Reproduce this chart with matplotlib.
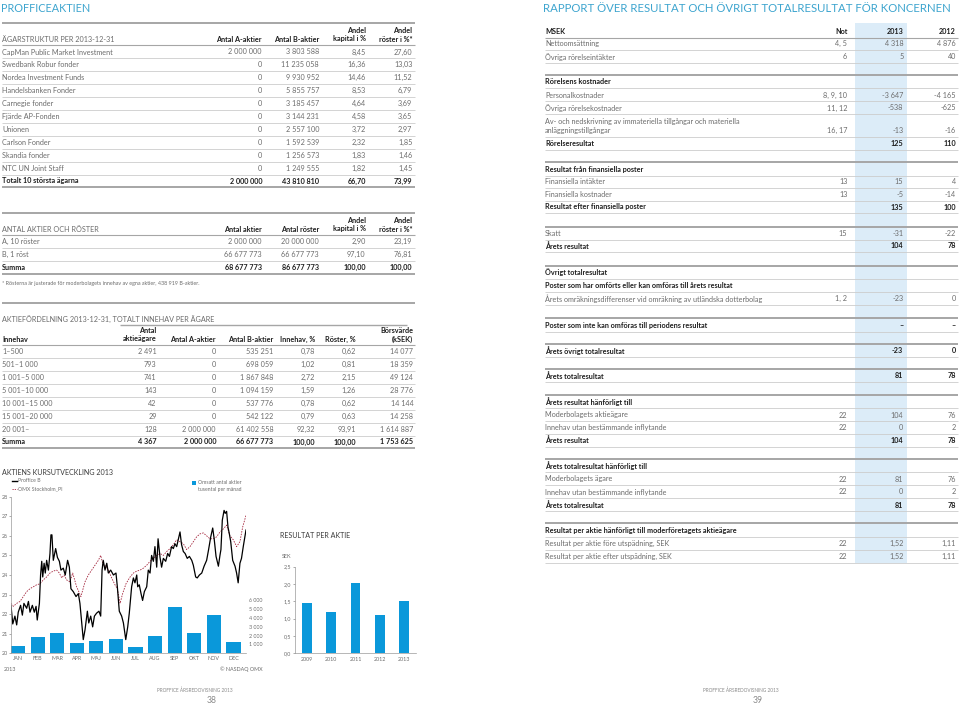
import matplotlib
matplotlib.use("Agg")
import matplotlib.pyplot as plt
from matplotlib.patches import Rectangle

plt.rcParams['font.family'] = ['Lato', 'DejaVu Sans']

# ---------------- data ----------------
owner_names = ["CapMan Public Market Investment", "Swedbank Robur fonder", "Nordea Investment Funds",
               "Handelsbanken Fonder", "Carnegie fonder", "Fjärde AP-Fonden", "Unionen",
               "Carlson Fonder", "Skandia fonder", "NTC UN Joint Staff"]
owner_a = [2000000, 0, 0, 0, 0, 0, 0, 0, 0, 0]
owner_b = [3803588, 11235058, 9930952, 5855757, 3185457, 3144231, 2557100, 1592539, 1256573, 1249555]
owner_cap = [8.45, 16.36, 14.46, 8.53, 4.64, 4.58, 3.72, 2.32, 1.83, 1.82]
owner_vote = [27.60, 13.03, 11.52, 6.79, 3.69, 3.65, 2.97, 1.85, 1.46, 1.45]
owner_total = [2000000, 43810810, 66.70, 73.99]

share_class = ["A, 10 röster", "B, 1 röst"]
share_count = [2000000, 66677773]
share_votes = [20000000, 66677773]
share_cap = [2.90, 97.10]
share_vote_pct = [23.19, 76.81]
share_sum = [68677773, 86677773, 100.00, 100.00]

dist_range = ["1–500", "501–1 000", "1 001–5 000", "5 001–10 000", "10 001–15 000",
              "15 001–20 000", "20 001–"]
dist_holders = [2491, 793, 741, 143, 42, 29, 128]
dist_a = [0, 0, 0, 0, 0, 0, 2000000]
dist_b = [535251, 698059, 1867848, 1094159, 537776, 542122, 61402558]
dist_hold_pct = [0.78, 1.02, 2.72, 1.59, 0.78, 0.79, 92.32]
dist_vote_pct = [0.62, 0.81, 2.15, 1.26, 0.62, 0.63, 93.91]
dist_value = [14077, 18359, 49124, 28776, 14144, 14258, 1614887]
dist_sum = [4367, 2000000, 66677773, 100.00, 100.00, 1753625]

months = ["JAN", "FEB", "MAR", "APR", "MAJ", "JUN", "JUL", "AUG", "SEP", "OKT", "NOV", "DEC"]
volume = [820, 1800, 2300, 1200, 1350, 1570, 670, 1950, 5250, 2280, 4270, 1270]  # tusental
proffice_x = [0.00, 0.09, 0.20, 0.29, 0.37, 0.49, 0.58, 0.66, 0.80, 0.89, 0.97, 1.09, 1.19, 1.28,
              1.34, 1.45, 1.51, 1.57, 1.62, 1.69, 1.75, 1.82, 1.91, 1.99, 2.04, 2.09, 2.16, 2.21,
              2.28, 2.37, 2.47, 2.55, 2.67, 2.77, 2.89, 2.98, 3.06, 3.18, 3.32, 3.44, 3.52, 3.61,
              3.69, 3.78, 3.90, 3.97, 4.07, 4.17, 4.26, 4.37, 4.49, 4.58, 4.65, 4.71, 4.80, 4.89,
              4.97, 5.09, 5.23, 5.36, 5.43, 5.53, 5.65, 5.74, 5.86, 5.96, 6.04, 6.16, 6.25, 6.33,
              6.42, 6.47, 6.55, 6.64, 6.72, 6.81, 6.93, 7.01, 7.10, 7.18, 7.27, 7.35, 7.44, 7.51,
              7.61, 7.69, 7.78, 7.90, 8.00, 8.09, 8.20, 8.29, 8.37, 8.46, 8.54, 8.63, 8.71, 8.80,
              8.89, 9.00, 9.11, 9.23, 9.31, 9.43, 9.51, 9.62, 9.74, 9.86, 9.99, 10.09, 10.20,
              10.30, 10.38, 10.47, 10.59, 10.67, 10.72, 10.79, 10.88, 10.94, 11.01, 11.08, 11.15,
              11.22, 11.32, 11.44, 11.52, 11.60, 11.69, 11.77, 11.86, 11.95, 12.00]
proffice_y = [22.44, 21.50, 21.90, 21.45, 22.10, 22.45, 21.95, 22.55, 22.30, 22.65, 22.10, 22.45,
              22.10, 22.40, 21.70, 22.55, 24.00, 24.70, 23.90, 24.60, 24.10, 24.75, 24.25, 25.10,
              26.05, 26.05, 24.75, 25.00, 25.35, 24.90, 24.70, 24.25, 24.35, 24.00, 24.75, 24.40,
              23.30, 23.15, 22.90, 23.05, 22.55, 21.55, 20.70, 21.20, 22.15, 21.55, 21.90, 21.35,
              21.90, 22.05, 22.15, 21.90, 24.25, 24.75, 24.25, 24.60, 24.10, 24.25, 24.00, 24.10,
              23.40, 22.15, 21.90, 21.55, 20.70, 21.35, 22.05, 23.40, 23.85, 23.60, 24.00, 23.40,
              23.50, 23.05, 22.70, 23.15, 23.40, 24.25, 24.10, 25.00, 24.70, 25.45, 24.40, 25.85,
              24.90, 24.40, 24.85, 24.70, 25.10, 24.95, 25.45, 25.35, 25.60, 25.45, 25.80, 26.20,
              25.55, 25.20, 25.10, 24.85, 24.95, 24.75, 24.50, 23.90, 23.85, 24.00, 24.10, 24.45,
              24.75, 25.30, 25.95, 26.40, 25.80, 24.95, 24.45, 25.00, 25.30, 26.80, 27.30, 27.15,
              27.25, 26.45, 26.10, 25.70, 24.75, 24.45, 24.10, 23.60, 24.60, 24.85, 25.45, 26.00,
              26.30]
omx_x = [0.00, 0.12, 0.29, 0.46, 0.63, 0.80, 0.97, 1.14, 1.31, 1.48, 1.65, 1.82, 1.99, 2.16, 2.33,
         2.47, 2.59, 2.71, 2.84, 3.01, 3.15, 3.35, 3.57, 3.78, 3.95, 4.12, 4.29, 4.46, 4.58, 4.71,
         4.85, 4.97, 5.14, 5.31, 5.43, 5.57, 5.70, 5.87, 6.08, 6.25, 6.42, 6.59, 6.76, 6.93, 7.10,
         7.27, 7.44, 7.61, 7.78, 7.95, 8.12, 8.29, 8.46, 8.63, 8.80, 8.97, 9.14, 9.31, 9.48, 9.65,
         9.82, 9.99, 10.16, 10.33, 10.50, 10.67, 10.84, 11.01, 11.18, 11.35, 11.52, 11.69, 11.83,
         12.00]
omx_y = [22.55, 22.40, 22.55, 22.65, 22.90, 23.15, 23.30, 23.40, 23.50, 23.55, 23.75, 23.90, 24.10,
         24.20, 24.25, 24.10, 23.85, 24.00, 23.75, 23.65, 24.10, 23.40, 22.90, 23.65, 24.00, 24.25,
         24.50, 24.75, 25.00, 24.50, 24.45, 24.25, 23.85, 23.50, 23.30, 22.55, 23.05, 23.55, 23.90,
         24.10, 24.20, 24.25, 24.35, 24.50, 24.70, 24.85, 25.00, 25.10, 25.00, 25.20, 25.35, 25.55,
         25.80, 25.70, 25.60, 25.30, 25.45, 25.70, 25.95, 26.10, 26.15, 26.00, 25.85, 25.85, 25.95,
         26.20, 26.35, 26.55, 26.00, 25.80, 25.45, 25.70, 26.45, 27.05]
vol_ticks = [1000, 2000, 3000, 4000, 5000, 6000]
price_ticks = [20, 21, 22, 23, 24, 25, 26, 27, 28]

eps_years = ["2009", "2010", "2011", "2012", "2013"]
eps_values = [1.45, 1.19, 2.02, 1.11, 1.52]
eps_ticks = [0.0, 0.5, 1.0, 1.5, 2.0, 2.5]

res_labels = ["Nettoomsättning", "Övriga rörelseintäkter", "Rörelsens kostnader", "Personalkostnader",
              "Övriga rörelsekostnader",
              "Av- och nedskrivning av immateriella tillgångar och materiella\nanläggningstillgångar",
              "Rörelseresultat", "Resultat från finansiella poster", "Finansiella intäkter",
              "Finansiella kostnader", "Resultat efter finansiella poster", "Skatt", "Årets resultat",
              "Övrigt totalresultat", "Poster som har omförts eller kan omföras till årets resultat",
              "Årets omräkningsdifferenser vid omräkning av utländska dotterbolag",
              "Poster som inte kan omföras till periodens resultat", "Årets övrigt totalresultat",
              "Årets totalresultat", "Årets resultat hänförligt till", "Moderbolagets aktieägare",
              "Innehav utan bestämmande inflytande", "Årets resultat",
              "Årets totalresultat hänförligt till", "Moderbolagets ägare",
              "Innehav utan bestämmande inflytande", "Årets totalresultat",
              "Resultat per aktie hänförligt till moderföretagets aktieägare",
              "Resultat per aktie före utspädning, SEK", "Resultat per aktie efter utspädning, SEK"]
res_note = ["4, 5", "6", "", "8, 9, 10", "11, 12", "16, 17", "", "", "13", "13", "", "15", "", "", "",
            "1, 2", "", "", "", "", "22", "22", "", "", "22", "22", "", "", "22", "22"]
res_2013 = ["4 318", "5", "", "-3 647", "-538", "-13", "125", "", "15", "-5", "135", "-31", "104", "",
            "", "-23", "–", "-23", "81", "", "104", "0", "104", "", "81", "0", "81", "", "1,52", "1,52"]
res_2012 = ["4 876", "40", "", "-4 165", "-625", "-16", "110", "", "4", "-14", "100", "-22", "78", "",
            "", "0", "–", "0", "78", "", "76", "2", "78", "", "76", "2", "78", "", "1,11", "1,11"]
res_bold = [0, 0, 1, 0, 0, 0, 1, 1, 0, 0, 1, 0, 1, 1, 1, 0, 1, 1, 1, 1, 0, 0, 1, 1, 0, 0, 1, 1, 0, 0]

# ---------------- layout ----------------
res_y = [43.3, 56.7, 82, 95, 108, 121.7, 144, 169.3, 182, 194.7, 207, 233.3, 246, 272.3, 285.7,
         298.7, 325.3, 350.7, 376, 402, 415, 427.7, 440.3, 466, 479, 492, 505, 530.3, 543.7, 556.7]
res_sections = [75, 162.3, 226.7, 265.7, 318.3, 344.3, 369, 395, 459.3, 523.3]

GREY = "#6c6c6c"
DARK = "#1e1e1e"
RULE = "#a6a6a6"
THIN = "#cccccc"
TEAL = "#3ea5cf"
BLUE = "#0a98da"
FS = 5.2


def num(v):
    return f"{v:,}".replace(",", " ")


def pct(v):
    return f"{v:.2f}".replace(".", ",")


fig = plt.figure(figsize=(9.6, 7.06), dpi=100)
page = fig.add_axes((0, 0, 1, 1))
page.set_xlim(0, 960)
page.set_ylim(706, 0)
page.axis("off")


def txt(x, y, s, ha="left", bold=False, size=FS, color=None, **kw):
    page.text(x, y, s, ha=ha, va="center", fontsize=size,
              fontweight="bold" if bold else "normal",
              color=color or (DARK if bold else GREY), **kw)


def head(x, y, s, ha="right"):
    for k, line in enumerate(reversed(s.split("\n"))):
        txt(x, y - 8.8 * k, line, ha=ha, bold=True)


def hline(y, x0, x1, lw=0.6, color=THIN):
    page.plot([x0, x1], [y, y], color=color, lw=lw, solid_capstyle="butt")


L0, L1 = 2, 415
P = 12.9

# --- Ägarstruktur ---
txt(1, 8, "PROFFICEAKTIEN", size=7.8, color=TEAL)
c1 = [262, 319, 365.7, 412.3]
hline(23.3, L0, L1, 1.4, RULE)
txt(2, 39, "ÄGARSTRUKTUR PER 2013-12-31")
for x, h in zip(c1, ["Antal A-aktier", "Antal B-aktier", "Andel\nkapital i %", "Andel\nröster i %*"]):
    head(x, 39, h)
hline(45.3, L0, L1, 0.8, RULE)
for i, name in enumerate(owner_names):
    y = 52 + i * P
    txt(2, y, name)
    vals = [num(owner_a[i]), num(owner_b[i]), pct(owner_cap[i]), pct(owner_vote[i])]
    for x, v in zip(c1, vals):
        txt(x, y, v, ha="right")
    hline(y + 6.45, L0, L1)
y = 52 + len(owner_names) * P
txt(2, y, "Totalt 10 största ägarna", bold=True)
for x, v in zip(c1, [num(owner_total[0]), num(owner_total[1]), pct(owner_total[2]), pct(owner_total[3])]):
    txt(x, y, v, ha="right", bold=True)
hline(y + 6.4, L0, L1, 1.4, RULE)

# --- Antal aktier och röster ---
hline(212.7, L0, L1, 1.4, RULE)
txt(2, 229, "ANTAL AKTIER OCH RÖSTER")
for x, h in zip(c1, ["Antal aktier", "Antal röster", "Andel\nkapital i %", "Andel\nröster i %*"]):
    head(x, 229, h)
hline(235.3, L0, L1, 0.8, RULE)
for i, name in enumerate(share_class):
    y = 241.7 + i * P
    txt(2, y, name)
    vals = [num(share_count[i]), num(share_votes[i]), pct(share_cap[i]), pct(share_vote_pct[i])]
    for x, v in zip(c1, vals):
        txt(x, y, v, ha="right")
    hline(y + 6.45, L0, L1)
y = 241.7 + len(share_class) * P
txt(2, y, "Summa", bold=True)
for x, v in zip(c1, [num(share_sum[0]), num(share_sum[1]), pct(share_sum[2]), pct(share_sum[3])]):
    txt(x, y, v, ha="right", bold=True)
hline(y + 6.0, L0, L1, 1.4, RULE)
txt(2, 284, "* Rösterna är justerade för moderbolagets innehav av egna aktier, 438 919 B-aktier.", size=3.9)

# --- Aktiefördelning ---
hline(303.3, L0, L1, 1.4, RULE)
txt(2, 319.5, "AKTIEFÖRDELNING 2013-12-31, TOTALT INNEHAV PER ÄGARE")
hline(325.3, 120, 407, 1.0, RULE)
c3 = [156.7, 216, 273.3, 315, 356, 413.3]
txt(2, 339, "Innehav", bold=True)
for x, h in zip(c3, ["Antal\naktieägare", "Antal A-aktier", "Antal B-aktier", "Innehav, %",
                     "Röster, %", "Börsvärde\n(kSEK)"]):
    head(x, 339, h)
hline(345.3, L0, L1, 0.8, RULE)
for i, r in enumerate(dist_range):
    y = 351.7 + i * P
    txt(2, y, r)
    vals = [num(dist_holders[i]), num(dist_a[i]), num(dist_b[i]), pct(dist_hold_pct[i]),
            pct(dist_vote_pct[i]), num(dist_value[i])]
    for x, v in zip(c3, vals):
        txt(x, y, v, ha="right")
    hline(y + 6.45, L0, L1)
y = 351.7 + len(dist_range) * P
txt(2, y, "Summa", bold=True)
vals = [num(dist_sum[0]), num(dist_sum[1]), num(dist_sum[2]), pct(dist_sum[3]), pct(dist_sum[4]),
        num(dist_sum[5])]
for x, v in zip(c3, vals):
    txt(x, y, v, ha="right", bold=True)
hline(y + 6.2, L0, L1, 1.4, RULE)

# --- Kursutveckling ---
txt(2, 472.7, "AKTIENS KURSUTVECKLING 2013", size=5.1, color="#3c3c3c")
page.plot([11.5, 16.5], [481, 481], color="black", lw=1.0)
txt(18.3, 481, "Proffice B", size=3.7)
page.plot([11.5, 16.5], [489, 489], color="#a3243b", lw=0.6, ls=(0, (1.5, 1.2)))
txt(18.3, 489, "OMX Stockholm_PI", size=3.7)
page.add_patch(Rectangle((192.3, 481.3), 3.4, 3.4, color=BLUE, lw=0))
txt(198.3, 483, "Omsatt antal aktier", size=3.7)
txt(198.3, 490, "tusental per månad", size=3.7)
txt(4, 669.3, "2013", size=3.9)
txt(263, 669.3, "© NASDAQ OMX", ha="right", size=3.9)

ax = fig.add_axes((11 / 960, 1 - 653.3 / 706, 235 / 960, 156.6 / 706))
axb = ax.twinx()
axb.bar(range(len(months)), volume, width=0.72, align="edge", color=BLUE, zorder=1)
axb.set_ylim(0, 17600)
axb.set_yticks(vol_ticks, [num(v) for v in vol_ticks])
axb.tick_params(axis="y", length=0, pad=2, labelsize=3.9, colors=GREY)
for s in axb.spines.values():
    s.set_visible(False)
ax.set_zorder(axb.get_zorder() + 1)
ax.patch.set_visible(False)
ax.plot(omx_x, omx_y, color="#a3243b", lw=0.6, ls=(0, (1.8, 1.4)))
ax.plot(proffice_x, proffice_y, color="black", lw=0.9)
ax.set_xlim(0, 12)
ax.set_ylim(20, 28)
ax.set_yticks(price_ticks, [str(t) for t in price_ticks])
ax.set_xticks([i + 0.36 for i in range(len(months))], months)
ax.tick_params(axis="x", length=0, pad=2, labelsize=3.9, colors=GREY)
ax.tick_params(axis="y", length=1.5, width=0.4, pad=1, labelsize=3.9, colors=GREY)
for k in ["top", "right"]:
    ax.spines[k].set_visible(False)
for k in ["left", "bottom"]:
    ax.spines[k].set_color("#9a9a9a")
    ax.spines[k].set_linewidth(0.5)

# --- Resultat per aktie ---
txt(280, 535.7, "RESULTAT PER AKTIE", size=5.1, color="#3c3c3c")
txt(281.5, 556.7, "SEK", size=3.9)
ax3 = fig.add_axes((295 / 960, 1 - 653.3 / 706, 121 / 960, 86.6 / 706))
ax3.bar(range(len(eps_years)), eps_values, width=0.41, color=BLUE)
ax3.set_xlim(-0.5, 4.5)
ax3.set_ylim(0, 2.5)
ax3.set_yticks(eps_ticks, [f"{t:.1f}".replace(".", ",") for t in eps_ticks])
ax3.set_xticks(range(len(eps_years)), eps_years)
ax3.tick_params(axis="x", length=0, pad=2.5, labelsize=3.9, colors=GREY)
ax3.tick_params(axis="y", length=1.5, width=0.4, pad=1.5, labelsize=3.9, colors=GREY)
for k in ["top", "right"]:
    ax3.spines[k].set_visible(False)
for k in ["left", "bottom"]:
    ax3.spines[k].set_color("#9a9a9a")
    ax3.spines[k].set_linewidth(0.5)

# --- Rapport över resultat ---
R0, R1 = 545, 958
rc = [847.3, 903.3, 956]
txt(543, 8, "RAPPORT ÖVER RESULTAT OCH ÖVRIGT TOTALRESULTAT FÖR KONCERNEN", size=8.2, color=TEAL)
page.add_patch(Rectangle((855, 23), 52, 540, color="#dcecf8", lw=0, zorder=0))
txt(R0, 31.7, "MSEK", bold=True)
for x, h in zip(rc, ["Not", "2013", "2012"]):
    txt(x, 31.7, h, ha="right", bold=True)
hline(37.5, R0, R1, 0.8, RULE)
for ys in res_sections:
    hline(ys, R0, R1, 1.4, RULE)
for i, lab in enumerate(res_labels):
    parts = lab.split("\n")
    y = res_y[i]
    for k, part in enumerate(parts):
        txt(R0, y + 9 * k, part, bold=bool(res_bold[i]))
    yv = y + 9 * (len(parts) - 1)
    for x, v in zip(rc, [res_note[i], res_2013[i], res_2012[i]]):
        if v:
            txt(x, yv, v, ha="right", bold=bool(res_bold[i]) and x != rc[0])
    hline(yv + 6.2, R0, R1)

# --- sidfot ---
txt(195, 690, "PROFFICE ÅRSREDOVISNING 2013", ha="center", size=3.4, color="#8a8a8a")
txt(211.7, 700.5, "38", ha="center", size=6.2, color="#8a8a8a")
txt(741, 690, "PROFFICE ÅRSREDOVISNING 2013", ha="center", size=3.4, color="#8a8a8a")
txt(757.5, 700.5, "39", ha="center", size=6.2, color="#8a8a8a")

fig.savefig("out.png", dpi=100)
